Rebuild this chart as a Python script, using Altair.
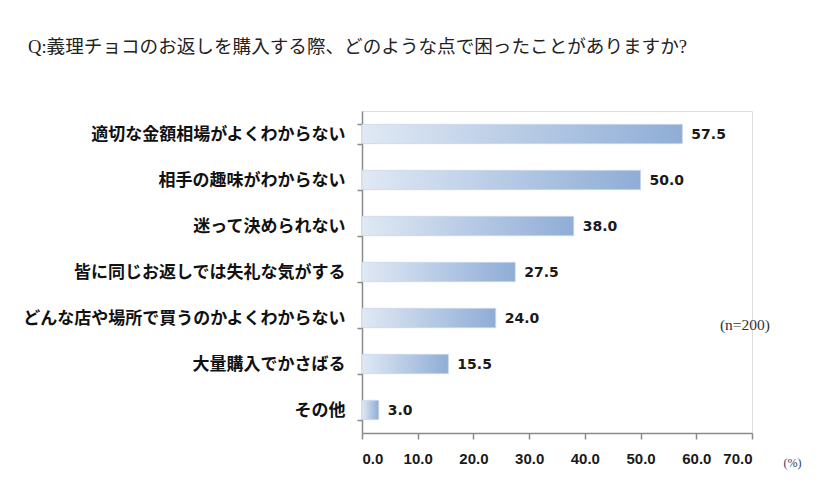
import altair as alt
import pandas as pd

categories = [
    "適切な金額相場がよくわからない",
    "相手の趣味がわからない",
    "迷って決められない",
    "皆に同じお返しでは失礼な気がする",
    "どんな店や場所で買うのかよくわからない",
    "大量購入でかさばる",
    "その他",
]
values = [57.5, 50.0, 38.0, 27.5, 24.0, 15.5, 3.0]
x_ticks = [0, 10, 20, 30, 40, 50, 60, 70]
title_text = "Q:義理チョコのお返しを購入する際、どのような点で困ったことがありますか?"
note_text = "(n=200)"

df = pd.DataFrame({"item": categories, "value": values})
note_df = pd.DataFrame({"item": [categories[4]], "value": [70.0], "label": [note_text]})

y_enc = alt.Y(
    "item:N",
    sort=categories,
    scale=alt.Scale(paddingInner=0.58, paddingOuter=0.29),
    axis=alt.Axis(
        title=None,
        domainColor="#8a8a8a",
        domainWidth=1.5,
        tickColor="#8a8a8a",
        tickWidth=1.5,
        tickSize=5,
        tickBand="extent",
        labelFont="Noto Sans CJK JP",
        labelFontWeight="bold",
        labelFontSize=17,
        labelColor="#111111",
        labelPadding=12,
        labelLimit=400,
    ),
)

x_enc = alt.X(
    "value:Q",
    scale=alt.Scale(domain=[0, 70], nice=False),
    axis=alt.Axis(
        values=x_ticks,
        format=".1f",
        grid=False,
        title="(%)",
        titleFont="Liberation Serif",
        titleFontWeight="normal",
        titleFontSize=12,
        titleColor="#333a66",
        titleAngle=0,
        titleAlign="left",
        titleBaseline="middle",
        titleX=421,
        titleY=29,
        domainColor="#8a8a8a",
        domainWidth=1.5,
        tickColor="#8a8a8a",
        tickWidth=1.5,
        tickSize=6,
        labelFont="Liberation Sans",
        labelFontWeight="bold",
        labelFontSize=15,
        labelColor="#1a1a1a",
        labelPadding=12,
    ),
)

bars = alt.Chart(df).mark_bar(
    color=alt.Gradient(
        gradient="linear",
        stops=[
            alt.GradientStop(color="#e0e9f4", offset=0),
            alt.GradientStop(color="#8fadd6", offset=1),
        ],
        x1=0, x2=1, y1=0, y2=0,
    ),
    stroke="#c9d7ea",
    strokeWidth=0.8,
).encode(y=y_enc, x=x_enc)

labels = alt.Chart(df).mark_text(
    align="left",
    baseline="middle",
    dx=9,
    dy=1,
    font="DejaVu Sans",
    fontWeight="bold",
    fontSize=14,
    color="#1a1a1a",
).encode(
    y=alt.Y("item:N", sort=categories),
    x=alt.X("value:Q"),
    text=alt.Text("value:Q", format=".1f"),
)

note = alt.Chart(note_df).mark_text(
    align="right",
    baseline="middle",
    dx=18,
    dy=7,
    font="Liberation Serif",
    fontSize=15.5,
    color="#333333",
).encode(
    y=alt.Y("item:N", sort=categories),
    x=alt.X("value:Q"),
    text="label:N",
)

chart = alt.layer(bars, labels, note).properties(
    width=390,
    height=322,
    autosize=alt.AutoSizeParams(type="none"),
    padding={"left": 354, "top": 103, "right": 66, "bottom": 58},
    title=alt.TitleParams(
        text=title_text,
        anchor="start",
        frame="group",
        orient="top",
        baseline="bottom",
        offset=26,
        dx=-334,
        font="Liberation Serif, Noto Sans CJK JP",
        fontSize=18.6,
        fontWeight="normal",
        color="#222222",
    ),
).configure_view(stroke=None).configure(background="white")

chart.save("out.html", embed_options={"renderer": "svg", "actions": False})
